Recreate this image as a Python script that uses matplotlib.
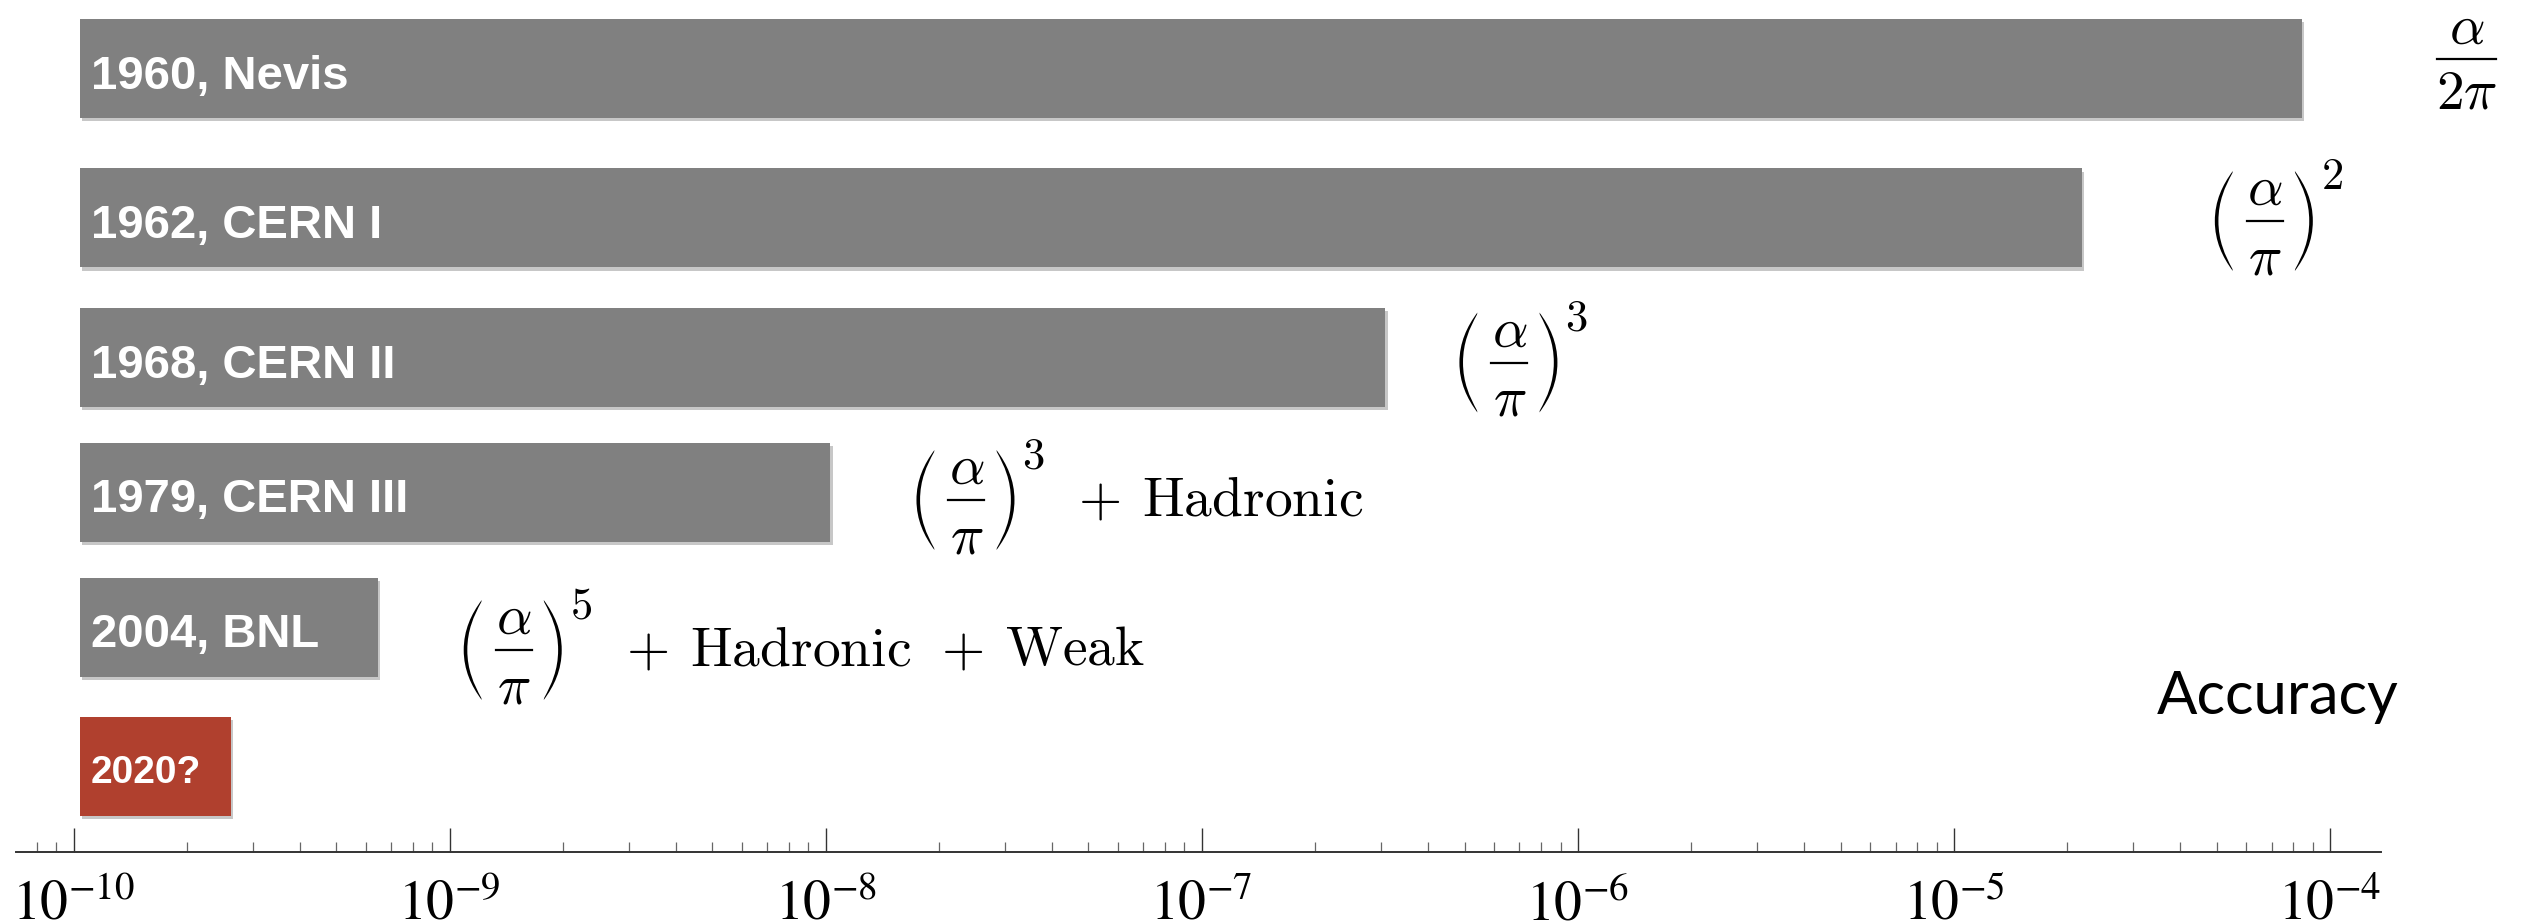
import numpy as np
import matplotlib
matplotlib.use('Agg')
import matplotlib.pyplot as plt
from matplotlib import patheffects
from matplotlib.lines import Line2D
from matplotlib.patches import PathPatch
from matplotlib.path import Path
from matplotlib.transforms import Affine2D, IdentityTransform
from matplotlib.ticker import LogLocator, FuncFormatter, NullFormatter

# g-2 experiments and the accuracy each one reached
experiments = ['1960, Nevis', '1962, CERN I', '1968, CERN II',
               '1979, CERN III', '2004, BNL', '2020?']
accuracy = [8.43e-5, 2.19e-5, 3.08e-7, 1.03e-8, 6.44e-10, 2.62e-10]
bar_start = 1.04e-10

# theory terms needed at that accuracy: (alpha / denom)^power + extra terms
denoms = [r'2\pi', r'\pi', r'\pi', r'\pi', r'\pi', None]
powers = [None, 2, 3, 3, 5, None]
extras = [[], [], [], ['Hadronic'], ['Hadronic', 'Weak'], []]

# layout (vertical axis runs in pixels from the top)
row_y = [68.5, 218, 357.5, 492, 627, 766]
bar_h = 99
label_pt = [34, 34, 34, 34, 34, 28]
term_dx = [135, 133, 74, 86, 86, 0]
term_dy = [9, -3, -5, -8, -23, 0]
gray = '#808080'
red = '#b0402e'
MATH_PT = 40

plt.rcParams['mathtext.fontset'] = 'stix'

W, H = 2528, 922
fig = plt.figure(figsize=(W / 100, H / 100), dpi=100)
ax = fig.add_axes([16 / W, (H - 852) / H, (2381 - 16) / W, 852 / H])

ax.set_xscale('log')
ax.set_xlim(10 ** -10.153, 10 ** -3.864)
ax.set_ylim(852, 0)

shadow = [patheffects.SimplePatchShadow(offset=(1.5, -2.5), shadow_rgbFace='k', alpha=0.22),
          patheffects.Normal()]

px = IdentityTransform()


def paren(x, y, right=False, w=18, h=100, t=3.6):
    # a tall thin round bracket, bulging left for '(' and right for ')'
    verts = [(w, h / 2),
             (0.42 * w, 0.36 * h), (0, 0.2 * h), (0, 0),
             (0, -0.2 * h), (0.42 * w, -0.36 * h), (w, -h / 2),
             (w - 0.4, -h / 2 + 2),
             (0.42 * w + 0.7 * t, -0.34 * h), (t, -0.2 * h), (t, 0),
             (t, 0.2 * h), (0.42 * w + 0.7 * t, 0.34 * h), (w - 0.4, h / 2 - 2),
             (w, h / 2)]
    codes = ([Path.MOVETO] + [Path.CURVE4] * 6 + [Path.LINETO]
             + [Path.CURVE4] * 6 + [Path.CLOSEPOLY])
    verts = np.array(verts, dtype=float)
    if right:
        verts[:, 0] = w - verts[:, 0]
    p = PathPatch(Path(verts, codes), facecolor='black', edgecolor='none',
                  transform=Affine2D().translate(x, y))
    fig.add_artist(p)


def math(x, y, s, size=MATH_PT, **kw):
    return fig.text(x, y, s, transform=px, fontsize=size, math_fontfamily='cm',
                    color='black', **kw)


renderer = fig.canvas.get_renderer()

for i, name in enumerate(experiments):
    color = red if name.startswith('2020') else gray
    bar = ax.barh(row_y[i], accuracy[i] - bar_start, left=bar_start, height=bar_h,
                  color=color, edgecolor='none')
    bar[0].set_path_effects(shadow)

    ax.annotate(name, xy=(bar_start, row_y[i]), xytext=(11, -20 if i < 5 else -17),
                textcoords='offset pixels', ha='left', va='baseline',
                color='white', fontsize=label_pt[i], fontweight='bold',
                family=['Liberation Sans', 'DejaVu Sans'])

    if denoms[i] is None:
        continue

    # fraction alpha / denom, with brackets when it carries a power
    end_x, end_y = ax.transData.transform((accuracy[i], row_y[i]))
    x0 = end_x + term_dx[i]
    yc = end_y + term_dy[i]
    if powers[i] is None:
        rule = (x0, x0 + 59)
    else:
        paren(x0, yc)
        paren(x0 + 80, yc, right=True)
        rule = (x0 + 32, x0 + 68)
    cx = 0.5 * (rule[0] + rule[1])
    fig.add_artist(Line2D(rule, [yc, yc], transform=px, color='black', lw=1.6))
    math(cx, yc + 31, r'$\alpha$', ha='center', va='center')
    math(cx, yc - (34 if '2' in denoms[i] else 38), '$' + denoms[i] + '$',
         ha='center', va='center')
    if powers[i] is not None:
        math(x0 + 106, yc + 66, r'$%d$' % powers[i], size=32, ha='left', va='top')

    # remaining contributions, joined with plus signs
    x = x0 + 162
    for word in extras[i]:
        math(x, yc - 15, r'$+$', ha='left', va='baseline')
        t = math(x + 64, yc - 15, r'$\mathrm{%s}$' % word, ha='left', va='baseline')
        x = t.get_window_extent(renderer).x1 + 30

ax.text(0.9053, 0.162, 'Accuracy', transform=ax.transAxes, ha='left', va='baseline',
        fontsize=43, family=['Lato', 'DejaVu Sans'], color='black')

for side in ['left', 'right', 'top']:
    ax.spines[side].set_visible(False)
ax.spines['bottom'].set_color('#333333')
ax.spines['bottom'].set_linewidth(1.4)
ax.set_yticks([])

ax.xaxis.set_major_locator(LogLocator(base=10, numticks=20))
ax.xaxis.set_minor_locator(LogLocator(base=10, subs=np.arange(2, 10), numticks=20))
ax.xaxis.set_major_formatter(FuncFormatter(lambda v, p: r'$10^{%d}$' % round(np.log10(v))))
ax.xaxis.set_minor_formatter(NullFormatter())
ax.tick_params(axis='x', which='major', direction='in', length=17, width=1.0,
               color='#333333', labelsize=40, pad=18)
ax.tick_params(axis='x', which='minor', direction='in', length=7.5, width=0.9,
               color='#666666')

fig.savefig('out.png', dpi=100)
